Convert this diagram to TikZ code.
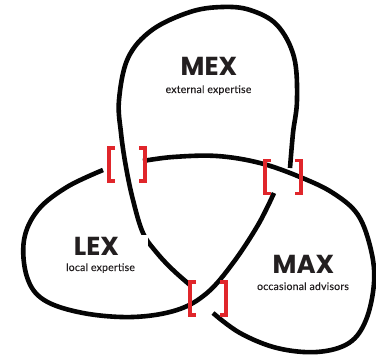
\documentclass[tikz,border=0pt]{standalone}
\usepackage{fontspec}
\newfontfamily\titlefont{Poppins}
\newfontfamily\subfont[LetterSpace=2,FakeBold=0.3]{Lato}
\definecolor{knot}{HTML}{050505}
\definecolor{brred}{HTML}{E0262B}
\definecolor{txt}{HTML}{231F20}
\tikzset{
  strand/.style={draw=knot, line width=4.6pt, line join=round},
  brk/.style={draw=brred, line width=3.4pt, line cap=butt, line join=miter},
  ttl/.style={font=\titlefont\bfseries\fontsize{26}{26}\selectfont, text=txt, inner sep=0pt, anchor=base},
  sub/.style={font=\subfont\fontsize{10.5}{11}\selectfont, text=txt, inner sep=0pt, anchor=base},
  pics/lb/.style={code={\draw[brk] (6,-16.5) -- (0,-16.5) -- (0,16.5) -- (6,16.5);}},
  pics/rb/.style={code={\draw[brk] (-6,-16.5) -- (0,-16.5) -- (0,16.5) -- (-6,16.5);}}
}
\begin{document}
\begin{tikzpicture}[x=1pt,y=-1pt]
\useasboundingbox (0,0) rectangle (376,356);
% MEX loop strand
\draw[strand] plot[smooth, tension=0.6] coordinates {(290,168) (293,133) (297,100) (294,57) (277,25) (250,10) (222,7) (190,12) (152,30) (128,58) (119,100) (121,133) (126,167) (133,200) (143,233) (157,253) (173,270) (190,285)};
% MAX strand
\draw[strand] plot[smooth, tension=0.6] coordinates {(143,161) (173,157) (217,156) (260,163) (300,177) (333,193) (358,215) (371,250) (374,283) (366,320) (349,343) (317,352) (277,348) (240,333) (213,313)};
% LEX strand
\draw[strand] plot[smooth, tension=0.6] coordinates {(103,170) (67,187) (38,210) (24,240) (27,277) (44,300) (83,313) (133,317) (177,310) (207,293) (233,263) (258,225) (274,193)};
% white patch of the LEX label
\fill[white] (118,235) rectangle (148,268);
% brackets
\pic at (109,164.5) {lb};
\pic at (145,164.5) {rb};
\pic at (265,177) {lb};
\pic at (301,177) {rb};
\pic at (190,298.5) {lb};
\pic at (226,298.5) {rb};
% labels
\node[ttl] (mex) at (209,75) {MEX};
\node[sub] (mexs) at (208.5,93) {external expertise};
\node[ttl] (lex) at (96.5,255) {LEX};
\node[sub] (lexs) at (100.5,271) {local expertise};
\node[ttl] (max) at (303.5,273) {MAX};
\node[sub] (maxs) at (303,290) {occasional advisors};
\end{tikzpicture}
\end{document}
